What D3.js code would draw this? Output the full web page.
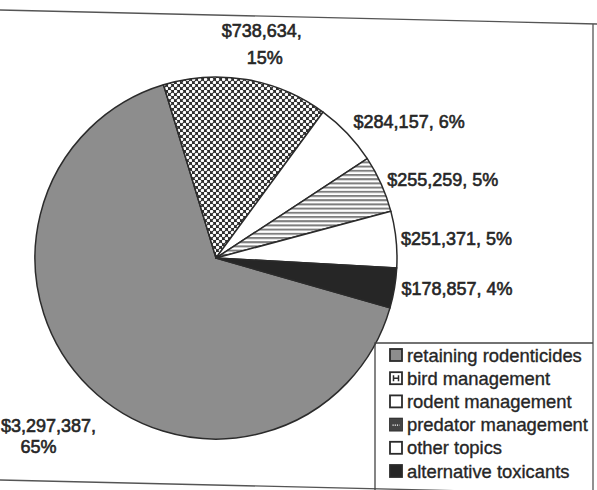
<!DOCTYPE html>
<html>
<head>
<meta charset="utf-8">
<script src="https://cdn.jsdelivr.net/npm/d3@7"></script>
<style>
  body { margin: 0; background: #fff; }
  svg { display: block; }
</style>
</head>
<body>
<svg id="chart" width="597" height="490"></svg>
<script>
(function() {
  // Data
  const categories = [
    "retaining rodenticides",
    "bird management",
    "rodent management",
    "predator management",
    "other topics",
    "alternative toxicants"
  ];
  const amounts = [3297387, 738634, 284157, 255259, 251371, 178857];
  const percentLabels = ["65%", "15%", "6%", "5%", "5%", "4%"];

  const INK = "#2b2b2b";
  const cx = 216, cy = 258, radius = 181;
  const startDeg = 106;

  // fill per slice (patterns defined below)
  const fills = ["#8d8d8d", "url(#dots)", "#ffffff", "url(#stripes)", "#ffffff", "#262626"];
  // where each label sits: distance from centre and anchoring
  const labelLayout = [
    { r: 250, anchor: "start", twoLines: true, dx: 0, dy: 0, gap: 21 },
    { r: 212, anchor: "middle", twoLines: true, dx: 10, dy: -5, gap: 27 },
    { r: 198, anchor: "start", twoLines: false, dx: -6, dy: 0 },
    { r: 192, anchor: "start", twoLines: false, dx: -4, dy: 0 },
    { r: 188, anchor: "start", twoLines: false, dx: -2, dy: 0 },
    { r: 188, anchor: "start", twoLines: false, dx: 0, dy: 0 }
  ];

  const svg = d3.select("#chart");
  const defs = svg.append("defs");

  const dots = defs.append("pattern")
    .attr("id", "dots")
    .attr("patternUnits", "userSpaceOnUse")
    .attr("width", 6).attr("height", 6);
  dots.append("rect").attr("width", 6).attr("height", 6).attr("fill", "#2e2e2e");
  dots.append("circle").attr("cx", 1.5).attr("cy", 1.5).attr("r", 1.75).attr("fill", "#fff");
  dots.append("circle").attr("cx", 4.5).attr("cy", 4.5).attr("r", 1.75).attr("fill", "#fff");

  const stripes = defs.append("pattern")
    .attr("id", "stripes")
    .attr("patternUnits", "userSpaceOnUse")
    .attr("width", 6).attr("height", 4.2);
  stripes.append("rect").attr("width", 6).attr("height", 4.2).attr("fill", "#fff");
  stripes.append("rect").attr("y", 0).attr("width", 6).attr("height", 2).attr("fill", "#7e7e7e");

  // Outer frame (scan is a little tilted)
  const frame = svg.append("g").attr("stroke", "#555").attr("stroke-width", 1.3).attr("fill", "none");
  frame.append("line").attr("x1", 0).attr("y1", 10).attr("x2", 597).attr("y2", 24);
  frame.append("line").attr("x1", 593).attr("y1", 24).attr("x2", 593).attr("y2", 490);
  frame.append("line").attr("x1", 0).attr("y1", 480).attr("x2", 597).attr("y2", 494);

  // Pie
  const pie = d3.pie()
    .sort(null)
    .value(d => d)
    .startAngle(startDeg * Math.PI / 180)
    .endAngle((startDeg + 360) * Math.PI / 180);
  const arcs = pie(amounts);
  const arc = d3.arc().innerRadius(0).outerRadius(radius);

  const g = svg.append("g").attr("transform", `translate(${cx},${cy})`);
  g.selectAll("path.slice")
    .data(arcs)
    .join("path")
    .attr("class", "slice")
    .attr("d", arc)
    .attr("fill", (d, i) => fills[i])
    .attr("stroke", INK)
    .attr("stroke-width", 1.5)
    .attr("stroke-linejoin", "round");

  // Data labels
  const money = d3.format("$,");
  const labels = svg.append("g")
    .attr("font-family", "Arial, 'Liberation Sans', sans-serif")
    .attr("font-size", 18)
    .attr("fill", "#262626")
    .attr("stroke", "#262626")
    .attr("stroke-width", 0.6);

  arcs.forEach((d, i) => {
    const L = labelLayout[i];
    const mid = (d.startAngle + d.endAngle) / 2;
    let x = cx + L.r * Math.sin(mid) + L.dx;
    const y = cy - L.r * Math.cos(mid) + L.dy;
    if (L.twoLines) {
      const first = money(amounts[i]) + ",";
      const t = labels.append("text").attr("text-anchor", L.anchor);
      const a = t.append("tspan").attr("y", y - L.gap / 2 + 6).text(first);
      if (L.anchor === "start") {
        // keep the whole amount inside the picture, centre the percent under it
        a.attr("x", 1);
        const w = a.node().getComputedTextLength();
        labels.append("text").attr("text-anchor", "middle")
          .attr("x", 1 + w / 2 - 10).attr("y", y + L.gap / 2 + 6).text(percentLabels[i]);
      } else {
        a.attr("x", x);
        labels.append("text").attr("text-anchor", "middle")
          .attr("x", x + 3).attr("y", y + L.gap / 2 + 6).text(percentLabels[i]);
      }
    } else {
      labels.append("text")
        .attr("text-anchor", L.anchor)
        .attr("x", x).attr("y", y + 6)
        .text(money(amounts[i]) + ", " + percentLabels[i]);
    }
  });

  // Legend
  const lx = 375, ly = 343;
  svg.append("path")
    .attr("d", `M${lx},490 V${ly} H593`)
    .attr("fill", "none")
    .attr("stroke", "#444")
    .attr("stroke-width", 1.3);

  const legendY = d3.scalePoint()
    .domain(categories)
    .range([355, 471]);

  const legend = svg.append("g")
    .attr("font-family", "Arial, 'Liberation Sans', sans-serif")
    .attr("font-size", 18.4)
    .attr("fill", "#262626");

  const items = legend.selectAll("g")
    .data(categories)
    .join("g")
    .attr("transform", d => `translate(${lx + 15},${legendY(d)})`);

  items.append("rect")
    .attr("x", 0).attr("y", -6)
    .attr("width", 12).attr("height", 12)
    .attr("fill", (d, i) => i === 1 ? "#fff" : fills[i])
    .attr("stroke", INK)
    .attr("stroke-width", 1.8);

  // small marks inside the patterned swatches
  items.filter((d, i) => i === 1).append("path")
    .attr("d", "M3.5,-3 V3 M3.5,0 H8.5 M8.5,-3 V3")
    .attr("stroke", INK).attr("stroke-width", 1.5).attr("fill", "none");
  items.filter((d, i) => i === 3).append("rect")
    .attr("x", 0).attr("y", -6).attr("width", 12).attr("height", 12)
    .attr("fill", "#444");
  items.filter((d, i) => i === 3).append("path")
    .attr("d", "M2.5,0.5 H9.5")
    .attr("stroke", "#fff").attr("stroke-width", 1.4).attr("stroke-dasharray", "1.2,1");

  items.append("text")
    .attr("x", 17)
    .attr("y", 6.5)
    .attr("stroke", "#262626")
    .attr("stroke-width", 0.35)
    .text(d => d);
})();
</script>
</body>
</html>
